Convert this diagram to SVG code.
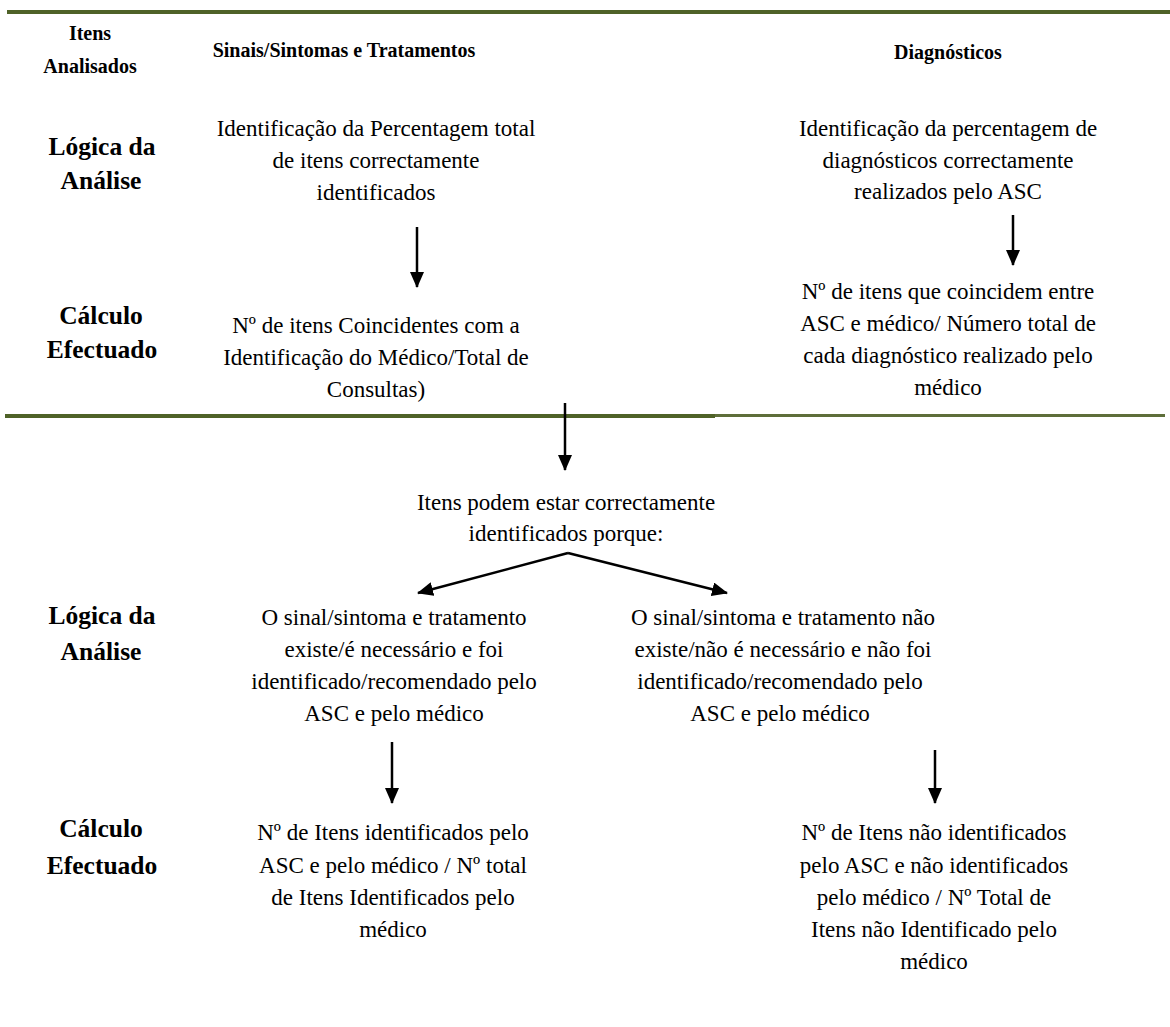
<svg xmlns="http://www.w3.org/2000/svg" width="1170" height="1027" viewBox="0 0 1170 1027">
<style>
.t{font-family:"Liberation Serif","Times New Roman",serif;font-size:23px;fill:#000;text-anchor:middle}
.b{font-family:"Liberation Serif","Times New Roman",serif;font-size:25.5px;font-weight:bold;fill:#000;text-anchor:middle}
.h{font-family:"Liberation Serif","Times New Roman",serif;font-size:20px;font-weight:bold;fill:#000;text-anchor:middle}
.c{stroke:#000;stroke-width:2.5;fill:none}
</style>
<defs>
<marker id="ah" markerWidth="16" markerHeight="14" refX="15" refY="7" orient="auto" markerUnits="userSpaceOnUse" viewBox="0 0 16 14">
<path d="M0,0 L16,7 L0,14 Z" fill="#000"/>
</marker>
</defs>
<rect x="0" y="0" width="1170" height="1027" fill="#fff"/>
<g id="rules">
<rect x="7" y="10" width="1163" height="4" fill="#4F6228"/>
<rect x="5" y="414" width="710" height="4" fill="#4F6228"/>
<rect x="715" y="414" width="450" height="3" fill="#5E6E3A"/>
</g>
<g id="header">
<text class="h" x="90" y="40">Itens</text>
<text class="h" x="90" y="73">Analisados</text>
<text class="h" x="344" y="57">Sinais/Sintomas e Tratamentos</text>
<text class="h" x="948" y="59">Diagnósticos</text>
</g>
<g id="label-logica-1">
<text class="b" x="102" y="155">Lógica da</text>
<text class="b" x="101" y="189">Análise</text>
</g>
<g id="label-calculo-1">
<text class="b" x="101" y="324">Cálculo</text>
<text class="b" x="102" y="358">Efectuado</text>
</g>
<g id="node-logica-sinais">
<text class="t" x="376" y="136">Identificação da Percentagem total</text>
<text class="t" x="376" y="168">de itens correctamente</text>
<text class="t" x="376" y="200">identificados</text>
</g>
<g id="node-logica-diag">
<text class="t" x="948" y="136">Identificação da percentagem de</text>
<text class="t" x="948" y="168">diagnósticos correctamente</text>
<text class="t" x="948" y="199">realizados pelo ASC</text>
</g>
<g id="node-calculo-sinais">
<text class="t" x="376" y="333">Nº de itens Coincidentes com a</text>
<text class="t" x="376" y="365">Identificação do Médico/Total de</text>
<text class="t" x="376" y="397">Consultas)</text>
</g>
<g id="node-calculo-diag">
<text class="t" x="948" y="299">Nº de itens que coincidem entre</text>
<text class="t" x="948" y="331">ASC e médico/ Número total de</text>
<text class="t" x="948" y="363">cada diagnóstico realizado pelo</text>
<text class="t" x="948" y="395">médico</text>
</g>
<g id="node-itens-podem">
<text class="t" x="566" y="510">Itens podem estar correctamente</text>
<text class="t" x="566" y="541">identificados porque:</text>
</g>
<g id="label-logica-2">
<text class="b" x="102" y="624">Lógica da</text>
<text class="b" x="101" y="660">Análise</text>
</g>
<g id="label-calculo-2">
<text class="b" x="101" y="837">Cálculo</text>
<text class="b" x="102" y="874">Efectuado</text>
</g>
<g id="node-existe">
<text class="t" x="394" y="625">O sinal/sintoma e tratamento</text>
<text class="t" x="394" y="657">existe/é necessário e foi</text>
<text class="t" x="394" y="689">identificado/recomendado pelo</text>
<text class="t" x="394" y="721">ASC e pelo médico</text>
</g>
<g id="node-nao-existe">
<text class="t" x="783" y="625">O sinal/sintoma e tratamento não</text>
<text class="t" x="783" y="657">existe/não é necessário e não foi</text>
<text class="t" x="780" y="689">identificado/recomendado pelo</text>
<text class="t" x="780" y="721">ASC e pelo médico</text>
</g>
<g id="node-calc-identificados">
<text class="t" x="393" y="840">Nº de Itens identificados pelo</text>
<text class="t" x="393" y="873">ASC e pelo médico / Nº total</text>
<text class="t" x="393" y="905">de Itens Identificados pelo</text>
<text class="t" x="393" y="937">médico</text>
</g>
<g id="node-calc-nao-identificados">
<text class="t" x="934" y="840">Nº de Itens não identificados</text>
<text class="t" x="934" y="873">pelo ASC e não identificados</text>
<text class="t" x="934" y="905">pelo médico / Nº Total de</text>
<text class="t" x="934" y="937">Itens não Identificado pelo</text>
<text class="t" x="934" y="969">médico</text>
</g>
<g id="connectors">
<line class="c" x1="417" y1="227" x2="417" y2="287" marker-end="url(#ah)"/>
<line class="c" x1="1013" y1="215" x2="1013" y2="265" marker-end="url(#ah)"/>
<line class="c" x1="565" y1="403" x2="565" y2="470" marker-end="url(#ah)"/>
<line class="c" x1="568" y1="553" x2="418" y2="593" marker-end="url(#ah)"/>
<line class="c" x1="568" y1="553" x2="727" y2="593" marker-end="url(#ah)"/>
<line class="c" x1="392" y1="742" x2="392" y2="803" marker-end="url(#ah)"/>
<line class="c" x1="935" y1="750" x2="935" y2="803" marker-end="url(#ah)"/>
</g>
</svg>
